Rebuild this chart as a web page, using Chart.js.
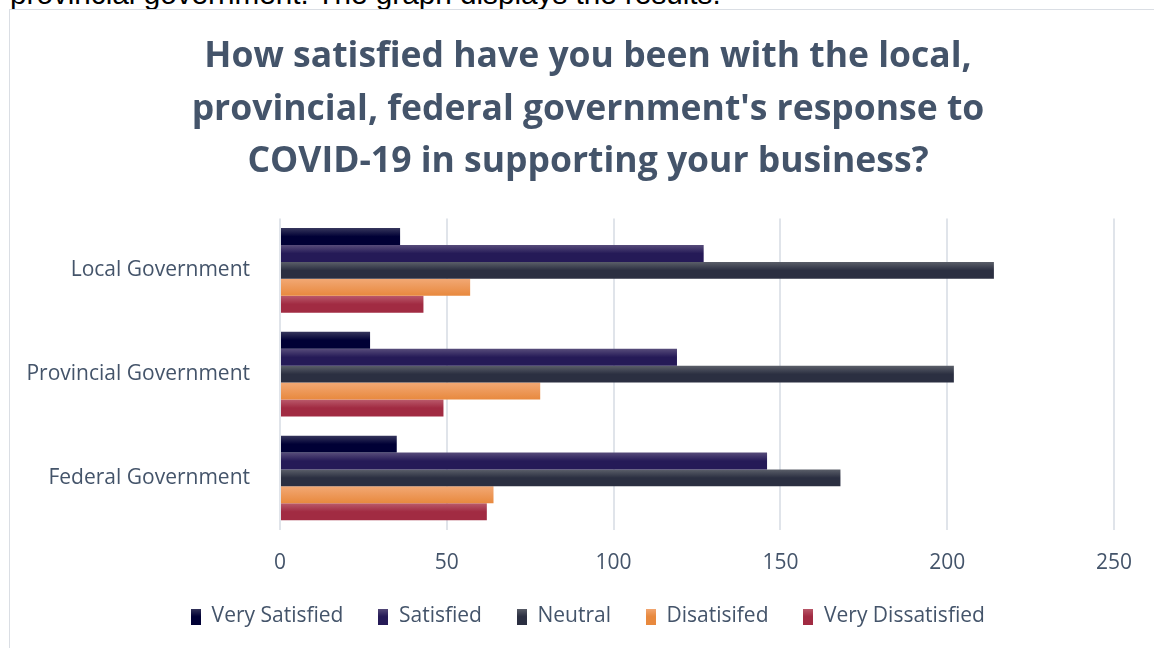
<!DOCTYPE html>
<html>
<head>
<meta charset="utf-8">
<script src="https://cdn.jsdelivr.net/npm/chart.js@4"></script>
<style>
  html, body { margin:0; padding:0; width:1154px; height:648px; overflow:hidden; background:#fff; }
  #intro { position:absolute; left:10px; top:-21px; font-family:"Liberation Sans", Arial, sans-serif; font-size:29.7px; line-height:30px; color:#000; white-space:nowrap; }
  #frame { position:absolute; left:9px; top:9px; width:1200px; height:700px; border:1px solid #dadee4; box-sizing:border-box; }
  #wrap { position:absolute; left:10px; top:10px; width:1156px; height:700px; }
</style>
</head>
<body>
<div id="intro">provincial government. The graph displays the results.</div>
<div id="frame"></div>
<div id="wrap"><canvas id="c" width="1156" height="700"></canvas></div>
<script>
// ---- data ----
const categories = ['Local Government', 'Provincial Government', 'Federal Government'];
const seriesNames = ['Very Satisfied', 'Satisfied', 'Neutral', 'Disatisifed', 'Very Dissatisfied'];
const verySatisfied    = [36, 27, 35];
const satisfied        = [127, 119, 146];
const neutral          = [214, 202, 168];
const disatisifed      = [57, 78, 64];
const veryDissatisfied = [43, 49, 62];
const xTickValues = [0, 50, 100, 150, 200, 250];
const titleLines = ['How satisfied have you been with the local,',
                    "provincial, federal government's response to",
                    'COVID-19 in supporting your business?'];

// ---- styles ----
const palette = [
  { top: '#36365c', bottom: '#000035' },
  { top: '#574c7a', bottom: '#251a57' },
  { top: '#5b5f69', bottom: '#2b2f41' },
  { top: '#f2a874', bottom: '#e8893e' },
  { top: '#ba5a6b', bottom: '#a12b42' }
];
const textColor = '#44546a';

function makeSwatch(p) {
  const c = document.createElement('canvas');
  c.width = 10; c.height = 16;
  const g = c.getContext('2d');
  const gr = g.createLinearGradient(0, 0, 0, 16);
  gr.addColorStop(0, p.top); gr.addColorStop(0.5, p.bottom); gr.addColorStop(1, p.bottom);
  g.fillStyle = gr; g.fillRect(0, 0, 10, 16);
  return c;
}
const swatches = palette.map(makeSwatch);

const gradientPlugin = {
  id: 'barGradient',
  beforeDatasetsDraw(chart) {
    const ctx = chart.ctx;
    chart.data.datasets.forEach((ds, i) => {
      const meta = chart.getDatasetMeta(i);
      const p = palette[i];
      meta.data.forEach(el => {
        const { y, height } = el.getProps(['y', 'height'], true);
        const g = ctx.createLinearGradient(0, y - height / 2, 0, y + height / 2);
        g.addColorStop(0, p.top);
        g.addColorStop(i === 3 ? 1 : 0.5, p.bottom);
        g.addColorStop(1, p.bottom);
        el.options = Object.assign({}, el.options, { backgroundColor: g });
      });
    });
  }
};

const seriesValues = [verySatisfied, satisfied, neutral, disatisifed, veryDissatisfied];

Chart.defaults.font.family = '"Open Sans"';
Chart.defaults.color = textColor;

new Chart(document.getElementById('c'), {
  type: 'bar',
  data: {
    labels: categories,
    datasets: seriesNames.map((name, i) => ({
      label: name,
      data: seriesValues[i],
      backgroundColor: palette[i].bottom,
      borderWidth: 0,
      categoryPercentage: 0.815,
      barPercentage: 1.0
    }))
  },
  options: {
    indexAxis: 'y',
    responsive: false,
    animation: false,
    layout: { padding: { left: 0, right: 0, top: 0, bottom: 73 } },
    plugins: {
      title: {
        display: true,
        text: titleLines,
        color: textColor,
        font: { family: '"Open Sans"', size: 35.5, weight: 'bold', lineHeight: '52.5px' },
        padding: { top: 21, bottom: 30 }
      },
      legend: {
        position: 'bottom',
        title: { display: true, text: '', font: { size: 1 }, padding: { top: -8, bottom: 0 } },
        labels: {
          usePointStyle: true,
          boxWidth: 10,
          boxHeight: 16,
          padding: 35,
          color: textColor,
          font: { size: 21 },
          generateLabels(chart) {
            return chart.data.datasets.map((ds, i) => ({
              text: ds.label,
              pointStyle: swatches[i],
              fillStyle: palette[i].bottom,
              strokeStyle: 'rgba(0,0,0,0)',
              lineWidth: 0,
              fontColor: textColor,
              hidden: !chart.isDatasetVisible(i),
              datasetIndex: i
            }));
          }
        }
      },
      tooltip: { enabled: false }
    },
    scales: {
      x: {
        min: 0, max: 250,
        afterBuildTicks(s) { s.ticks = xTickValues.map(v => ({ value: v })); },
        afterFit(s) { s.height = 48; },
        grid: { color: '#e0e4ea', lineWidth: 2, drawTicks: false },
        border: { display: false },
        ticks: { padding: 21, color: textColor, font: { size: 21 } }
      },
      y: {
        afterFit(s) { s.width = 270; },
        grid: { display: false, drawTicks: false },
        border: { display: false },
        ticks: { padding: 30, color: textColor, font: { size: 21 } }
      },
      yRight: {
        type: 'category',
        axis: 'y',
        position: 'right',
        display: true,
        afterFit(s) { s.width = 52; },
        grid: { display: false, drawTicks: false },
        border: { display: false },
        ticks: { display: false }
      }
    }
  },
  plugins: [gradientPlugin]
});
</script>
</body>
</html>
